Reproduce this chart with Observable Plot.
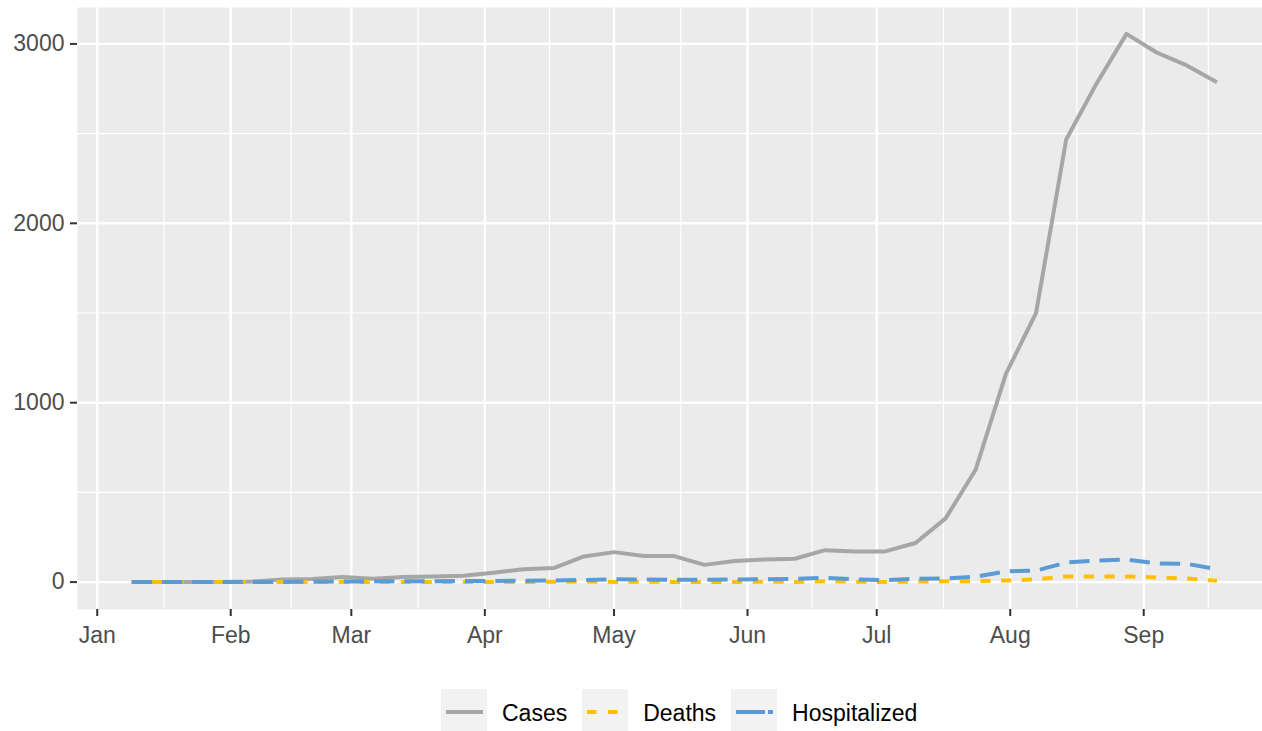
<!DOCTYPE html>
<html>
<head>
<meta charset="utf-8">
<script src="https://cdn.jsdelivr.net/npm/d3@7"></script>
<script src="https://cdn.jsdelivr.net/npm/@observablehq/plot@0.6"></script>
<style>
  body { margin: 0; background: #fff; font-family: "Liberation Sans", Arial, sans-serif; }
  #wrap { width: 1262px; height: 731px; position: relative; overflow: hidden; }
  #legend { position: absolute; left: 441px; top: 689px; height: 42px; display: flex; align-items: center; font-size: 23px; color: #000; }
  .key { width: 46px; height: 42px; background: #F2F2F2; }
  .lab { margin-left: 15px; margin-right: 15px; position: relative; top: 3px; }
</style>
</head>
<body>
<div id="wrap">
  <div id="chart"></div>
  <div id="legend"></div>
</div>
<script>
const weeks = ["2021-01-09","2021-01-16","2021-01-23","2021-01-30","2021-02-06","2021-02-13","2021-02-20","2021-02-27",
  "2021-03-06","2021-03-13","2021-03-20","2021-03-27","2021-04-03","2021-04-10","2021-04-17","2021-04-24",
  "2021-05-01","2021-05-08","2021-05-15","2021-05-22","2021-05-29","2021-06-05","2021-06-12","2021-06-19",
  "2021-06-26","2021-07-03","2021-07-10","2021-07-17","2021-07-24","2021-07-31","2021-08-07","2021-08-14",
  "2021-08-21","2021-08-28","2021-09-04","2021-09-11","2021-09-18"];
const cases = [0,0,0,0,3,15,17,28,18,28,31,35,52,72,78,143,167,145,145,96,118,126,130,178,171,171,218,355,628,1161,1500,2467,2777,3056,2952,2880,2787];
const deaths = [0,0,0,0,0,0,0,0,0,0,0,0,0,0,2,3,1,2,1,0,1,2,1,5,2,0,3,5,5,9,15,31,31,31,26,20,7];
const hospitalized = [0,0,0,0,0,0,2,3,4,5,5,6,6,8,9,12,16,14,13,13,14,16,18,24,15,11,18,20,30,60,64,109,120,126,104,102,72];

const monthTicks = ["2021-01-01","2021-02-01","2021-03-01","2021-04-01","2021-05-01","2021-06-01","2021-07-01","2021-08-01","2021-09-01","2021-10-01"];
const yTicks = [0, 1000, 2000, 3000];
const yMinor = [500, 1500, 2500];

const seriesNames = ["Cases", "Deaths", "Hospitalized"];
const seriesColors = ["#A6A6A6", "#FFC000", "#5B9BD5"];

const parse = d3.utcParse("%Y-%m-%d");
const rows = weeks.map((w, i) => ({date: parse(w), cases: cases[i], deaths: deaths[i], hosp: hospitalized[i]}));

const xDomain = [new Date("2020-12-27T10:00:00Z"), new Date("2021-09-28T14:00:00Z")];
const majors = monthTicks.map(parse);
const majorIn = majors.filter(d => d >= xDomain[0] && d <= xDomain[1]);
const minors = [];
for (let i = -1; i < majors.length - 1; i++) {
  const a = i < 0 ? new Date(Date.UTC(2020, 11, 1)) : majors[i];
  const b = majors[i + 1];
  const m = new Date((+a + +b) / 2);
  if (m >= xDomain[0] && m <= xDomain[1]) minors.push(m);
}

const LW = 4;
const chart = Plot.plot({
  width: 1262,
  height: 660,
  marginLeft: 77,
  marginRight: 0,
  marginTop: 7,
  marginBottom: 51,
  style: {fontFamily: "'Liberation Sans', Arial, sans-serif", fontSize: "23px", background: "#fff"},
  x: {type: "utc", domain: xDomain},
  y: {domain: [-152.8, 3203]},
  marks: [
    Plot.frame({fill: "#EBEBEB", stroke: null}),
    Plot.ruleY(yMinor, {stroke: "#fff", strokeWidth: 1.2}),
    Plot.ruleX(minors, {stroke: "#fff", strokeWidth: 1.2}),
    Plot.ruleY(yTicks, {stroke: "#fff", strokeWidth: 2.4}),
    Plot.ruleX(majorIn, {stroke: "#fff", strokeWidth: 2.4}),
    Plot.line(rows, {x: "date", y: "cases", stroke: seriesColors[0], strokeWidth: LW, strokeLinecap: "butt"}),
    Plot.line(rows, {x: "date", y: "deaths", stroke: seriesColors[1], strokeWidth: LW, strokeLinecap: "butt", strokeDasharray: "10.3,10.4"}),
    Plot.line(rows, {x: "date", y: "hosp", stroke: seriesColors[2], strokeWidth: LW, strokeLinecap: "butt", strokeDasharray: "20.3,10"}),
    Plot.axisX({ticks: majorIn, tickFormat: d3.utcFormat("%b"), tickSize: 7, tickPadding: 10, fontSize: 23, stroke: "#333333", fill: "#4D4D4D", strokeWidth: 2, label: null}),
    Plot.axisY({ticks: yTicks, tickFormat: d => String(d), tickSize: 7, tickPadding: 6, fontSize: 23, stroke: "#333333", fill: "#4D4D4D", strokeWidth: 2, label: null})
  ]
});
document.getElementById("chart").appendChild(chart);

// legend
const legend = d3.select("#legend");
const keyDash = [null, "9.5,11.5", "29,3,5,20"];
seriesNames.forEach((name, i) => {
  const key = legend.append("div").attr("class", "key");
  const svg = key.append("svg").attr("width", 46).attr("height", 42);
  svg.append("line").attr("x1", 5).attr("x2", 42).attr("y1", 23).attr("y2", 23)
    .attr("stroke", seriesColors[i]).attr("stroke-width", LW)
    .attr("stroke-dasharray", keyDash[i]);
  legend.append("div").attr("class", "lab").text(name);
});
</script>
</body>
</html>
